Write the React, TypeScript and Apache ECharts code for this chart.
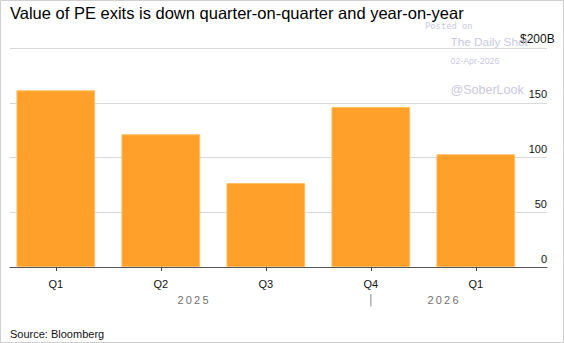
import React, { useEffect, useRef } from "react";
import * as echarts from "echarts";

const categories = ["Q1", "Q2", "Q3", "Q4", "Q1"];
const exitValues = [161.6, 121.4, 76.8, 146.3, 103.1];
const yTicks = [0, 50, 100, 150, 200];
const yearLabels = ["2025", "2026"];

const FONT = "'Liberation Sans', Arial, Helvetica, sans-serif";

const spaced = (s: string) => s.split("").join("\u2009");

export default function App() {
  const ref = useRef<HTMLDivElement>(null);
  useEffect(() => {
    document.body.style.margin = "0";
    const chart = echarts.init(ref.current!, null, { renderer: "svg" });
    const wm = "#c9c9e0";
    chart.setOption({
      animation: false,
      backgroundColor: "#fff",
      textStyle: { fontFamily: FONT },
      grid: [
        { left: 10, right: 17, top: 48.3, bottom: 76 },
        { left: 3.3, width: 525, top: 48.3, bottom: 76 },
      ],
      xAxis: [
        {
          gridIndex: 0,
          type: "value",
          min: 0,
          max: 1,
          axisLine: { show: true, onZero: false, lineStyle: { color: "#555", width: 1 } },
          axisTick: { show: false },
          axisLabel: { show: false },
          splitLine: { show: false },
        },
        {
          gridIndex: 1,
          type: "category",
          data: categories,
          axisLine: { show: false },
          axisTick: { show: true, alignWithLabel: true, length: 4, lineStyle: { color: "#444" } },
          axisLabel: { color: "#111", fontSize: 11, margin: 11, fontFamily: FONT },
        },
      ],
      yAxis: [
        {
          gridIndex: 0,
          type: "value",
          min: yTicks[0],
          max: yTicks[yTicks.length - 1],
          interval: 50,
          position: "right",
          axisLine: { show: false },
          axisTick: { show: false },
          splitLine: { show: true, lineStyle: { color: "#d9d9d9", width: 1 } },
          axisLabel: {
            inside: true,
            margin: 0,
            align: "right",
            verticalAlign: "bottom",
            padding: [0, 0, 3, 0],
            color: "#111",
            fontSize: 11,
            fontFamily: FONT,
            formatter: (v: number) =>
              v === yTicks[yTicks.length - 1] ? "{c|$" + v + "B}" : String(v),
            rich: {
              c: { fontSize: 12, color: "#111", fontFamily: FONT, width: 27, align: "left" },
            },
          },
        },
        {
          gridIndex: 1,
          type: "value",
          min: yTicks[0],
          max: yTicks[yTicks.length - 1],
          show: false,
          splitLine: { show: false },
        },
      ],
      series: [
        {
          type: "bar",
          xAxisIndex: 1,
          yAxisIndex: 1,
          data: exitValues,
          barCategoryGap: "25%",
          itemStyle: { color: "#ffa02a", borderColor: "#ffbf66", borderWidth: 1 },
        },
      ],
      graphic: [
        {
          type: "rect",
          shape: { x: 0.5, y: 0.5, width: 563, height: 342 },
          style: { fill: "none", stroke: "#cfcfcf", lineWidth: 1 },
          silent: true,
          z: 100,
        },
        {
          type: "text",
          x: 10,
          y: 13,
          style: {
            text: "Value of PE exits is down quarter-on-quarter and year-on-year",
            fontSize: 16.5,
            fontFamily: FONT,
            fill: "#000",
            verticalAlign: "middle",
          },
        },
        {
          type: "text",
          x: 193,
          y: 299.5,
          style: {
            text: spaced(yearLabels[0]),
            fontSize: 11,
            fontFamily: FONT,
            fill: "#707070",
            align: "center",
            verticalAlign: "middle",
          },
        },
        {
          type: "text",
          x: 443,
          y: 299.5,
          style: {
            text: spaced(yearLabels[1]),
            fontSize: 11,
            fontFamily: FONT,
            fill: "#707070",
            align: "center",
            verticalAlign: "middle",
          },
        },
        {
          type: "line",
          shape: { x1: 370.9, y1: 294, x2: 370.9, y2: 306.5 },
          style: { stroke: "#888", lineWidth: 1 },
        },
        {
          type: "text",
          x: 10,
          y: 334,
          style: {
            text: "Source: Bloomberg",
            fontSize: 11,
            fontFamily: FONT,
            fill: "#111",
            verticalAlign: "middle",
          },
        },
        {
          type: "text",
          x: 425,
          y: 26,
          style: { text: "Posted on", fontSize: 8.8, fontFamily: "'DejaVu Sans Mono', monospace", fill: wm, verticalAlign: "middle" },
          z: 50,
        },
        {
          type: "text",
          x: 450.5,
          y: 41.7,
          style: { text: "The Daily Shot", fontSize: 11.8, fontFamily: FONT, fill: wm, verticalAlign: "middle" },
          z: 50,
        },
        {
          type: "text",
          x: 450.5,
          y: 61,
          style: { text: "02-Apr-2026", fontSize: 8.8, fontFamily: FONT, fill: wm, verticalAlign: "middle" },
          z: 50,
        },
        {
          type: "text",
          x: 450.5,
          y: 90,
          style: { text: "@SoberLook", fontSize: 12.5, fontFamily: FONT, fill: wm, verticalAlign: "middle" },
          z: 50,
        },
      ],
    });
    return () => chart.dispose();
  }, []);
  return <div ref={ref} style={{ width: 564, height: 343 }} />;
}
